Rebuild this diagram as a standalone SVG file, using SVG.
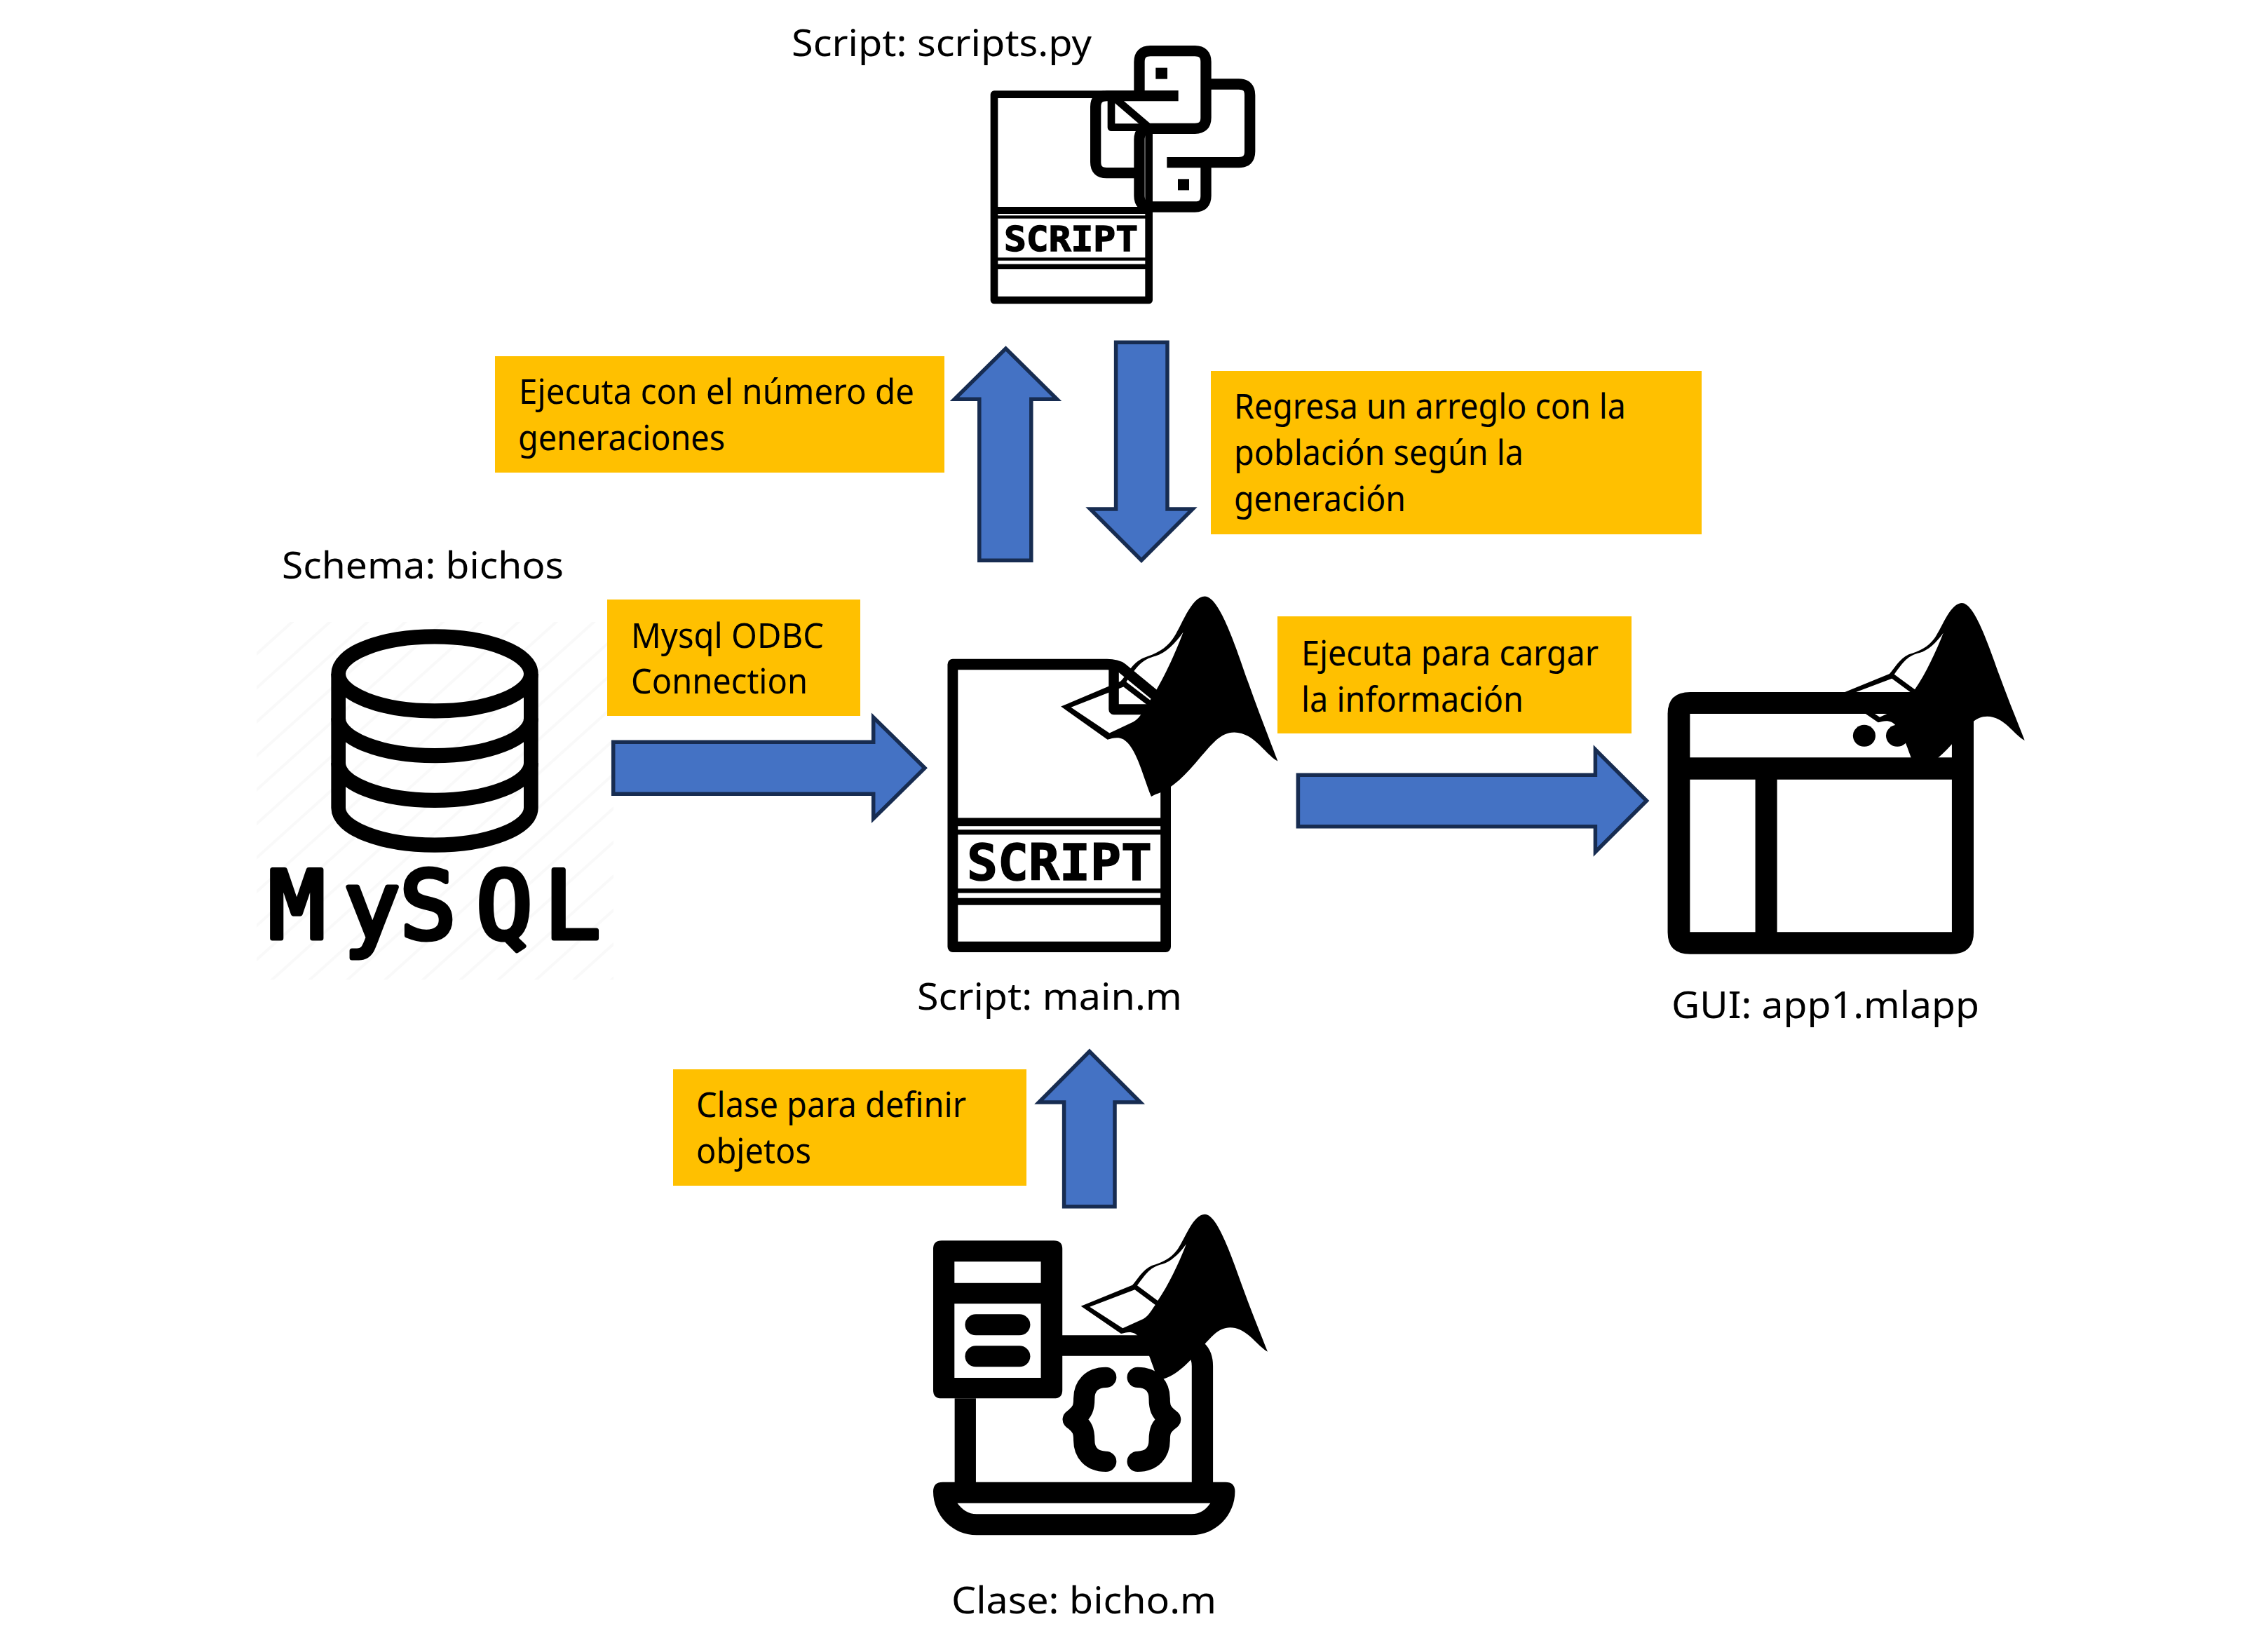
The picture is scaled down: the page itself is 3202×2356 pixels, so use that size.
<svg xmlns="http://www.w3.org/2000/svg" width="3202" height="2356" viewBox="0 0 3202 2356">
<style>
text{font-family:"Noto Sans","Open Sans","Liberation Sans",sans-serif;fill:#000}
.lbl{font-size:49px}
.cap{font-size:53px}
.box{fill:#ffc000}
.arr{fill:#4472c4;stroke:#172c51;stroke-width:5.5;stroke-miterlimit:10}
.k{fill:#000}
.o{fill:none;stroke:#000}
.scr{font-family:"DejaVu Sans Mono","Liberation Mono",monospace;font-weight:700;stroke:#000;stroke-width:1.5}
</style>
<defs>
<pattern id="hatch" width="36" height="36" patternUnits="userSpaceOnUse" patternTransform="rotate(-42)">
<rect width="36" height="36" fill="#fff"/><rect width="36" height="4" fill="#f9f9f9"/>
</pattern>
<path id="matlab" fill-rule="evenodd" fill="#000" d="M702,455 L915,365 C935,345 955,300 995,282 C1040,268 1075,250 1100,215 C1130,175 1165,62 1215,62 C1265,62 1320,225 1370,370 C1405,470 1445,570 1475,650 C1430,625 1390,547 1320,547 C1270,547 1240,590 1200,635 C1150,695 1100,750 1040,768 L1024,776 C990,690 970,600 925,572 C905,562 885,568 868,573 Z M738,458 L875,550 L960,510 C985,495 995,470 1010,450 L925,385 Z M935,367 L1020,432 C1065,365 1110,265 1138,190 C1110,230 1075,265 1040,275 C990,288 975,310 935,367 Z"/>
</defs>
<rect width="3202" height="2356" fill="#fff"/>

<g id="node-mysql">
<rect x="366" y="887" width="509" height="510" fill="url(#hatch)"/>
<text class="cap" x="402" y="825" textLength="402" lengthAdjust="spacingAndGlyphs">Schema: bichos</text>
<g transform="translate(360,870) scale(.33333,.34435)">
<g class="o" stroke-width="62">
<ellipse cx="780" cy="264" rx="412" ry="154"/>
<path d="M368,264V819C368,904 552,973 780,973C1008,973 1192,904 1192,819V264"/>
<path d="M368,449C368,534 552,603 780,603C1008,603 1192,534 1192,449"/>
<path d="M368,634C368,719 552,788 780,788C1008,788 1192,719 1192,634"/>
</g>
</g>
<text x="383 490 570 679 776" y="1338" font-size="134" stroke="#000" stroke-width="7" stroke-linejoin="round" style="font-family:'DejaVu Sans Mono',monospace">MySQL</text>
</g>

<g id="connectors">
<path id="arrow-mysql-main" class="arr" d="M874.7,1058.3H1245.7V1023L1319,1095.3L1245.7,1167.5V1132.3H874.7Z"/>
<path id="arrow-main-gui" class="arr" d="M1851.4,1105.3H2275.4V1069L2348.5,1142L2275.4,1215V1178.7H1851.4Z"/>
<path id="arrow-main-py" class="arr" d="M1396.8,799.3V569.3H1361.5L1434.5,497L1507.5,569.3H1470.8V799.3Z"/>
<path id="arrow-py-main" class="arr" d="M1591.6,488.3H1665V726H1701L1628,799L1555,726H1591.6Z"/>
<path id="arrow-bicho-main" class="arr" d="M1517.6,1720.7V1572H1481.8L1553.9,1499.5L1626.4,1572H1590V1720.7Z"/>
</g>

<g id="label-ejecuta-generaciones">
<rect class="box" x="706" y="508" width="641" height="166"/>
<text class="lbl" x="740" y="576" textLength="564" lengthAdjust="spacingAndGlyphs">Ejecuta con el número de</text>
<text class="lbl" x="739" y="642" textLength="295" lengthAdjust="spacingAndGlyphs">generaciones</text>
</g>
<g id="label-regresa">
<rect class="box" x="1727" y="529" width="700" height="233"/>
<text class="lbl" x="1760" y="597" textLength="559" lengthAdjust="spacingAndGlyphs">Regresa un arreglo con la</text>
<text class="lbl" x="1760" y="663" textLength="413" lengthAdjust="spacingAndGlyphs">población según la</text>
<text class="lbl" x="1760" y="729" textLength="245" lengthAdjust="spacingAndGlyphs">generación</text>
</g>
<g id="label-odbc">
<rect class="box" x="866" y="855" width="361" height="166"/>
<text class="lbl" x="900" y="924" textLength="275" lengthAdjust="spacingAndGlyphs">Mysql ODBC</text>
<text class="lbl" x="900" y="989" textLength="252" lengthAdjust="spacingAndGlyphs">Connection</text>
</g>
<g id="label-cargar">
<rect class="box" x="1822" y="879" width="505" height="167"/>
<text class="lbl" x="1856" y="949" textLength="424" lengthAdjust="spacingAndGlyphs">Ejecuta para cargar</text>
<text class="lbl" x="1856" y="1015" textLength="317" lengthAdjust="spacingAndGlyphs">la información</text>
</g>
<g id="label-clase">
<rect class="box" x="960" y="1525" width="504" height="166"/>
<text class="lbl" x="993" y="1593" textLength="385" lengthAdjust="spacingAndGlyphs">Clase para definir</text>
<text class="lbl" x="993" y="1659" textLength="164" lengthAdjust="spacingAndGlyphs">objetos</text>
</g>

<g id="node-scripts-py">
<text class="cap" x="1129" y="80" textLength="428" lengthAdjust="spacingAndGlyphs">Script: scripts.py</text>
<g transform="translate(1340,30) scale(.33333)">
<path class="o" stroke-width="32" stroke-linejoin="round" d="M700,314H234V1194H896V455L750,330Q730,314 700,314Z"/>
<path class="o" stroke-width="32" stroke-linejoin="round" d="M735,340V455H880"/>
<rect class="k" x="234" y="795" width="662" height="30"/><rect class="k" x="234" y="832" width="662" height="13"/>
<rect class="k" x="234" y="1012" width="662" height="13"/><rect class="k" x="234" y="1040" width="662" height="22"/>
<path class="o" stroke-width="46" stroke-linejoin="round" d="M1022,320H715Q668,320 668,367V603Q668,650 715,650H855M855,320V175Q855,128 902,128H1093Q1140,128 1140,175V413Q1140,460 1093,460H902Q855,460 855,507V748Q855,795 902,795H1093Q1140,795 1140,748V605M1140,270H1281Q1328,270 1328,317V558Q1328,605 1281,605H973"/>
<rect class="k" x="925" y="200" width="50" height="48"/><rect class="k" x="1020" y="676" width="48" height="48"/>
</g>
<text class="scr" x="1432" y="358" font-size="50" textLength="191" lengthAdjust="spacingAndGlyphs">SCRIPT</text>
</g>

<g id="node-main-m">
<g transform="translate(1300,820) scale(.34435,.35714)">
<path class="o" stroke-width="43" stroke-linejoin="round" d="M171,357H810Q850,357 872,372L1053,515V1485H171Z"/>
<path class="o" stroke-width="42" stroke-linejoin="round" d="M838,375V537H990"/>
<rect class="k" x="171" y="970" width="882" height="33"/><rect class="k" x="171" y="1017" width="882" height="20"/>
<rect class="k" x="171" y="1252" width="882" height="18"/><rect class="k" x="171" y="1290" width="882" height="28"/>
</g>
<use href="#matlab" transform="translate(1718.4,850.4) scale(.4) translate(-1215,-62)"/>
<text class="scr" x="1379" y="1255" font-size="71" textLength="264" lengthAdjust="spacingAndGlyphs">SCRIPT</text>
<text class="cap" x="1308" y="1440" textLength="378" lengthAdjust="spacingAndGlyphs">Script: main.m</text>
</g>

<g id="node-gui">
<use href="#matlab" transform="translate(2798.2,860) scale(.34435,.3333) translate(-1215,-62)"/>
<g transform="translate(2340,840) scale(.35714,.34435)">
<path class="k" fill-rule="evenodd" d="M198,427H1240Q1330,427 1330,517V1422Q1330,1512 1240,1512H198Q108,1512 108,1422V517Q108,427 198,427Z M197,517V698H1243V517Z M197,789V1421H458V789Z M545,789V1421H1243V789Z"/>
<circle class="k" cx="893" cy="608" r="45"/><circle class="k" cx="1025" cy="608" r="45"/>
</g>
<text class="cap" x="2384" y="1452" textLength="439" lengthAdjust="spacingAndGlyphs">GUI: app1.mlapp</text>
</g>

<g id="node-bicho">
<g transform="translate(1300,1711) scale(.34435,.33333)">
<path class="k" fill-rule="evenodd" d="M125,175H590Q625,175 625,210V815Q625,850 590,850H125Q90,850 90,815V210Q90,175 125,175Z M178,265V356H536V265Z M178,445V762H536V445Z"/>
<rect class="k" x="222" y="490" width="270" height="90" rx="45"/><rect class="k" x="222" y="625" width="270" height="90" rx="45"/>
<path class="o" stroke-width="88" d="M223,850V1220M620,624H1117Q1205,624 1205,712V1220"/>
<path class="k" fill-rule="evenodd" d="M130,1208H1300Q1340,1208 1340,1248C1340,1350 1260,1435 1160,1435H270C170,1435 90,1350 90,1248Q90,1208 130,1208Z M190,1298C210,1325 235,1345 270,1345H1160C1195,1345 1220,1325 1238,1298Z"/>
<g class="o" stroke-width="88" stroke-linecap="round" stroke-linejoin="round">
<path d="M805,760C745,760 715,800 715,850C715,885 712,910 670,940C712,970 715,995 715,1030C715,1080 745,1120 805,1120"/>
<path d="M937,760C997,760 1027,800 1027,850C1027,885 1030,910 1072,940C1030,970 1027,995 1027,1030C1027,1080 997,1120 937,1120"/>
</g>
</g>
<use href="#matlab" transform="translate(1718.4,1731.7) scale(.34435,.3333) translate(-1215,-62)"/>
<text class="cap" x="1357" y="2301" textLength="378" lengthAdjust="spacingAndGlyphs">Clase: bicho.m</text>
</g>
</svg>
